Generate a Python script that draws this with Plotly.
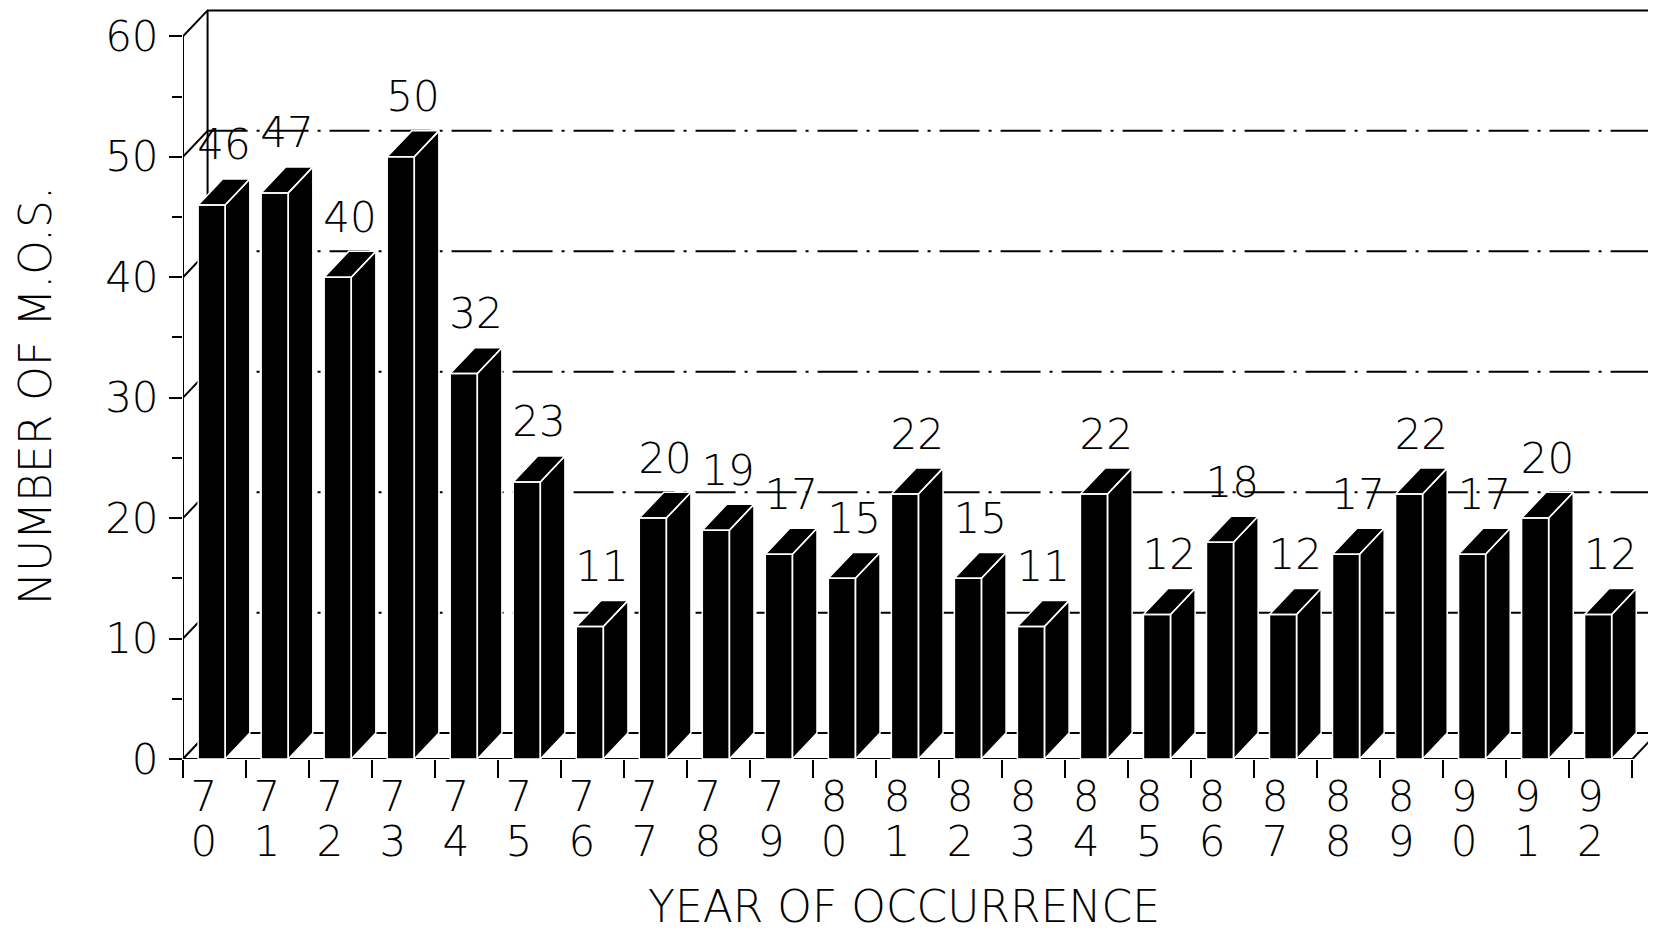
import plotly.graph_objects as go

# ---- data ----
years = ["70", "71", "72", "73", "74", "75", "76", "77", "78", "79", "80", "81",
         "82", "83", "84", "85", "86", "87", "88", "89", "90", "91", "92"]
counts = [46, 47, 40, 50, 32, 23, 11, 20, 19, 17, 15, 22,
          15, 11, 22, 12, 18, 12, 17, 22, 17, 20, 12]
y_major = [0, 10, 20, 30, 40, 50, 60]
y_minor = [5, 15, 25, 35, 45, 55]
grid_levels = [10, 20, 30, 40, 50]
x_title = "YEAR OF OCCURRENCE"
y_title = "NUMBER OF M.O.S."

# ---- geometry / style (not data) ----
n = len(years)
DX, DY = 0.39, 2.15     # 3-D depth offset in axis units
OFF, W = 0.24, 0.43     # bar front-face offset in slot and width
YTOP = 60
XR = 23.5
YR = 62.35
FONT = "DejaVu Sans"
FS = 42
FT = 44
ML, MT, MB = 175, 0, 179
PW, PH = 1656 - ML, 930 - MT - MB

fig = go.Figure()

# back wall frame, side-wall diagonals
fx, fy = [], []
fx += [0, 0, DX, XR + 1, None]; fy += [0, YTOP, YTOP + DY, YTOP + DY, None]
fx += [DX, DX, None]; fy += [DY, YTOP + DY, None]
for v in y_major[:-1]:
    fx += [0, DX, None]; fy += [v, v + DY, None]
fig.add_trace(go.Scatter(x=fx, y=fy, mode="lines",
                         line=dict(color="black", width=2), hoverinfo="skip"))

# value labels (drawn before gridlines, like the original)
lx = [i + OFF + (W + DX) / 2 for i in range(n)]
ly = [v + DY + 2.5 for v in counts]
fig.add_trace(go.Scatter(x=lx, y=ly, mode="text", text=[str(v) for v in counts],
                         textposition="middle center", cliponaxis=False,
                         textfont=dict(family=FONT, size=FS, color="black", weight=300),
                         xaxis="x2", hoverinfo="skip"))

# dash-dot gridlines on back wall
gx, gy = [], []
for v in grid_levels:
    gx += [DX, n + DX, None]; gy += [v + DY, v + DY, None]
fig.add_trace(go.Scatter(x=gx, y=gy, mode="lines",
                         line=dict(color="black", width=2, dash="40px,9px,3px,9px"),
                         hoverinfo="skip"))

# floor
fig.add_trace(go.Scatter(x=[0, n, n + DX, DX, 0], y=[0, 0, DY, DY, 0],
                         mode="lines", fill="toself", fillcolor="white",
                         line=dict(color="black", width=2), hoverinfo="skip"))

# 3-D bars: front, side and top faces
bx, by = [], []
for i, v in enumerate(counts):
    x0 = i + OFF
    x1 = x0 + W
    bx += [x0, x1, x1, x0, x0, None]; by += [0, 0, v, v, 0, None]
    bx += [x1, x1 + DX, x1 + DX, x1, x1, None]; by += [0, DY, v + DY, v, 0, None]
    bx += [x0, x1, x1 + DX, x0 + DX, x0, None]; by += [v, v, v + DY, v + DY, v, None]
fig.add_trace(go.Scatter(x=bx, y=by, mode="lines", fill="toself", fillcolor="black",
                         line=dict(color="white", width=1.5), hoverinfo="skip"))

tickpos = [i + 0.33 for i in range(n)]
tfont = dict(family=FONT, size=FS, color="black", weight=300)

fig.update_layout(
    width=1656, height=930,
    margin=dict(l=ML, r=0, t=MT, b=MB),
    paper_bgcolor="white", plot_bgcolor="white",
    showlegend=False, hovermode=False,
    font=dict(family=FONT, size=FS, color="black", weight=300),
    xaxis=dict(range=[0, XR], showgrid=False, zeroline=False, showline=False,
               tickmode="array", tickvals=tickpos,
               ticktext=[y[0] for y in years],
               ticks="outside", ticklen=0, ticklabelstandoff=1,
               tickfont=tfont,
               minor=dict(tickvals=list(range(n + 1)), ticks="outside",
                          ticklen=18, tickwidth=2, tickcolor="black", showgrid=False)),
    xaxis2=dict(matches="x", overlaying="x", anchor="y", side="bottom",
                showgrid=False, zeroline=False, showline=False,
                tickmode="array", tickvals=tickpos,
                ticktext=[y[1] for y in years],
                ticks="", ticklabelstandoff=54, tickfont=tfont),
    yaxis=dict(range=[0, YR], showgrid=False, zeroline=False, showline=False,
               tickmode="array", tickvals=y_major,
               ticks="outside", ticklen=13, tickwidth=2, tickcolor="black",
               ticklabelstandoff=2, tickfont=tfont,
               minor=dict(tickvals=y_minor, ticks="outside", ticklen=10,
                          tickwidth=2, tickcolor="black", showgrid=False)),
    annotations=[
        dict(text=x_title, xref="paper", yref="paper", x=(896 - ML) / PW,
             y=(PH - 898) / PH, showarrow=False, xanchor="center", yanchor="middle",
             font=dict(family=FONT, size=FT, color="black", weight=300)),
        dict(text=y_title, xref="paper", yref="paper", x=(27 - ML) / PW,
             y=(PH - 388) / PH, showarrow=False, textangle=-90,
             xanchor="center", yanchor="middle",
             font=dict(family=FONT, size=FT, color="black", weight=300)),
    ],
)

fig.write_html("out.html")
